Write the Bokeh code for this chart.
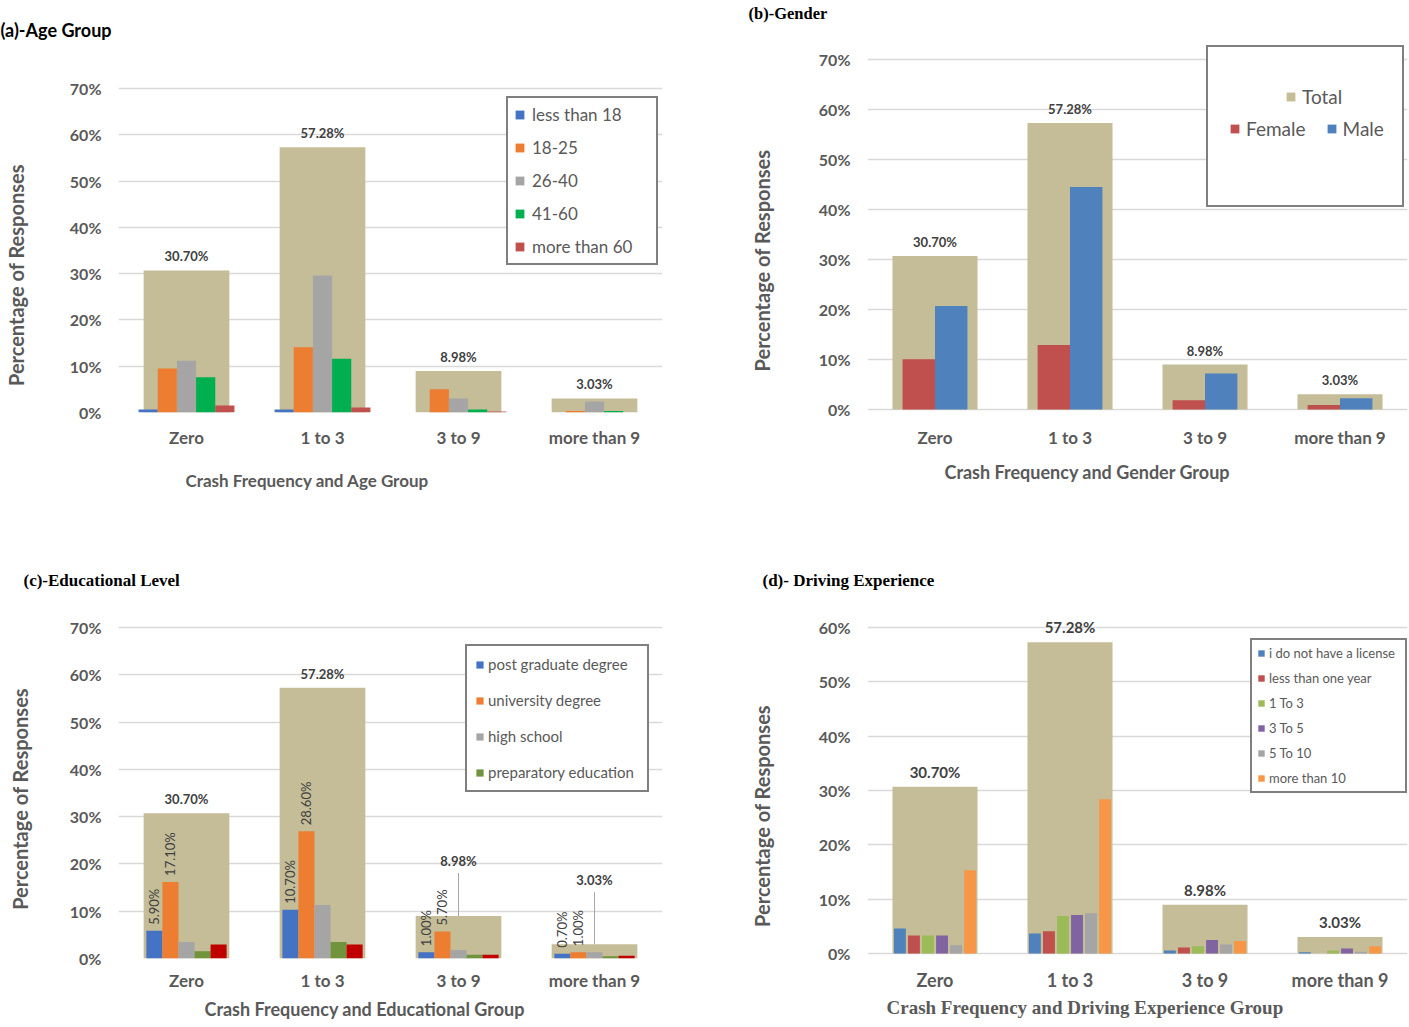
import numpy as np
from bokeh.plotting import figure
from bokeh.layouts import column, row
from bokeh.models import (FactorRange, Range1d, FixedTicker, PrintfTickFormatter, Legend,
                          LegendItem, Title, ColumnDataSource)
from bokeh.transform import dodge
from bokeh.core.properties import value
from bokeh.embed import file_html
from bokeh.resources import INLINE

# ---------------- data ----------------
categories = ["Zero", "1 to 3", "3 to 9", "more than 9"]
total = [30.70, 57.28, 8.98, 3.03]
total_labels = ["30.70%", "57.28%", "8.98%", "3.03%"]

# (a) age group
age_names = ["less than 18", "18-25", "26-40", "41-60", "more than 60"]
age_lt18 = [0.65, 0.65, 0.0, 0.0]
age_18_25 = [9.5, 14.1, 5.0, 0.3]
age_26_40 = [11.2, 29.6, 3.0, 2.4]
age_41_60 = [7.6, 11.6, 0.65, 0.35]
age_gt60 = [1.5, 1.1, 0.2, 0.0]

# (b) gender
gender_names = ["Female", "Male"]
gender_female = [10.05, 12.9, 1.85, 0.9]
gender_male = [20.7, 44.5, 7.2, 2.25]

# (c) educational level
edu_names = ["post graduate degree", "university degree", "high school", "preparatory education"]
edu_post = [5.85, 10.3, 1.34, 1.0]
edu_univ = [16.2, 26.9, 5.7, 1.34]
edu_high = [3.5, 11.3, 1.8, 1.34]
edu_prep = [1.55, 3.5, 0.77, 0.5]
edu_other = [2.96, 2.96, 0.77, 0.56]
edu_post_labels = ["5.90%", "10.70%", "1.00%", "0.70%"]
edu_univ_labels = ["17.10%", "28.60%", "5.70%", "1.00%"]

# (d) driving experience
drive_names = ["i do not have a license", "less than one year", "1 To 3", "3 To 5", "5 To 10", "more than 10"]
drive_nolic = [4.6, 3.7, 0.55, 0.25]
drive_lt1 = [3.3, 4.1, 1.1, 0.0]
drive_1to3 = [3.3, 6.9, 1.35, 0.55]
drive_3to5 = [3.3, 7.1, 2.5, 0.9]
drive_5to10 = [1.5, 7.4, 1.65, 0.3]
drive_gt10 = [15.3, 28.4, 2.3, 1.35]

# ---------------- style ----------------
TAN = "#c4bd97"
TXT = "#595959"
DARK = "#404040"
SANS = "Lato"
SERIF = "Liberation Serif"
NBSP = "\u00a0"


def base_fig(width, height, left, right, top, bottom, y0, y1, tick_max):
    p = figure(x_range=FactorRange(*categories), y_range=Range1d(y0, y1),
               width=width, height=height, output_backend="svg", toolbar_location=None,
               min_border_left=left, min_border_right=right,
               min_border_top=top, min_border_bottom=bottom)
    p.outline_line_color = None
    p.background_fill_color = "white"
    p.border_fill_color = "white"
    p.xgrid.grid_line_color = None
    ticks = list(range(0, tick_max + 1, 10))
    p.yaxis.ticker = FixedTicker(ticks=ticks)
    p.ygrid.ticker = FixedTicker(ticks=ticks)
    p.ygrid.grid_line_color = "#d9d9d9"
    p.ygrid.grid_line_width = 1.5
    p.yaxis.formatter = PrintfTickFormatter(format="%d%%")
    for ax in (p.xaxis[0], p.yaxis[0]):
        ax.axis_line_color = None
        ax.major_tick_line_color = None
        ax.minor_tick_line_color = None
        ax.major_tick_out = 0
        ax.major_tick_in = 0
        ax.minor_tick_out = 0
        ax.minor_tick_in = 0
        ax.major_label_text_color = TXT
        ax.major_label_text_font = SANS
        ax.major_label_text_font_style = "bold"
    p.yaxis.major_label_text_font_size = "16px"
    p.yaxis.major_label_standoff = 17
    p.xaxis.major_label_text_font_size = "17px"
    p.xaxis.major_label_standoff = 14
    return p


def add_total(p):
    src = ColumnDataSource(dict(cat=categories, total=total))
    return p.vbar(x="cat", top="total", width=0.63, source=src, fill_color=TAN, line_color=None)


def add_series(p, series, colors, pitch, width):
    n = len(series)
    rs = []
    src = ColumnDataSource(dict(cat=categories, **{f"s{i}": s for i, s in enumerate(series)}))
    for i, c in enumerate(colors):
        off = (i - (n - 1) / 2) * pitch
        r = p.vbar(x=dodge("cat", off, range=p.x_range), top=f"s{i}", width=width,
                   source=src, fill_color=c, line_color=None)
        rs.append(r)
    return rs


def add_total_labels(p, font_size, ppu, lift=None):
    lift = lift or [0] * len(categories)
    ys = [t + l / ppu for t, l in zip(total, lift)]
    src = ColumnDataSource(dict(cat=categories, y=ys, lab=total_labels))
    p.text(x="cat", y="y", text="lab", source=src, y_offset=-6, text_align="center",
           text_baseline="bottom", text_font=value(SANS), text_font_style="bold",
           text_font_size=font_size, text_color=DARK)
    xs, y0, y1 = [], [], []
    for c, t, l in zip(categories, total, lift):
        if l > 0:
            xs.append(c)
            y0.append(t)
            y1.append(t + (l + 2) / ppu)
    if xs:
        p.segment(x0=xs, y0=y0, x1=xs, y1=y1, line_color="#a6a6a6", line_width=1)


def panel_title(p, text, offset, standoff, font, size, spacer=None):
    if spacer is not None:
        p.add_layout(Title(text=NBSP, text_font_size="1px", standoff=spacer), "above")
    p.add_layout(Title(text=text, align="left", offset=offset, standoff=standoff,
                       vertical_align="bottom", text_font=font, text_font_size=size,
                       text_font_style="bold", text_color="black"), "above")


def x_title(p, text, offset, standoff, size, font=SANS):
    p.add_layout(Title(text=text, align="left", offset=offset, standoff=standoff,
                       vertical_align="top", text_font=font, text_font_size=size,
                       text_font_style="bold", text_color=TXT), "below")


def y_title(p, text, standoff, pad):
    p.yaxis.axis_label = text + NBSP * pad
    p.yaxis.axis_label_standoff = standoff
    p.yaxis.axis_label_text_font = SANS
    p.yaxis.axis_label_text_font_size = "20px"
    p.yaxis.axis_label_text_font_style = "bold"
    p.yaxis.axis_label_text_color = TXT


def make_legend(items, loc, font_size, glyph, label_h, spacing, padding, label_w, standoff=5,
                border=True, orientation="vertical"):
    return Legend(items=items, location=loc, orientation=orientation,
                  label_text_font=SANS, label_text_font_size=font_size, label_text_color=TXT,
                  glyph_width=glyph, glyph_height=glyph, label_height=label_h,
                  label_width=label_w, spacing=spacing, padding=padding, margin=0,
                  label_standoff=standoff,
                  border_line_color="black" if border else None, border_line_width=2,
                  background_fill_color="white",
                  background_fill_alpha=1.0 if border else 0.0)


# ---------------- (a) Age group ----------------
ppu_a = 4.629
pa = base_fig(738, 545, 118, 76, 40, 133, 0, 80.37, 70)
add_total(pa)
ra = add_series(pa, [age_lt18, age_18_25, age_26_40, age_41_60, age_gt60],
                ["#4472c4", "#ed7d31", "#a5a5a5", "#00b050", "#c0504d"], 0.141, 0.141)
add_total_labels(pa, "13px", ppu_a)
pa.add_layout(make_legend([LegendItem(label=n, renderers=[r]) for n, r in zip(age_names, ra)],
                          (388, 147), "17px", 11, 20, 12, 6, 118, standoff=7))
panel_title(pa, "(a)-Age Group", -118, 0, SANS, "18px")
y_title(pa, "Percentage of Responses", 39, 20)
x_title(pa, "Crash Frequency and Age Group", 67, 38, "17px")

# ---------------- (b) Gender ----------------
ppu_b = 5.0
pb = base_fig(671, 545, 129, 2, 40, 133, -0.6, 73.8, 70)
rb_total = add_total(pb)
rb = add_series(pb, [gender_female, gender_male], ["#c0504d", "#4f81bd"], 0.24, 0.24)
add_total_labels(pb, "13px", ppu_b)
dummy = pb.scatter(x=["Zero"], y=[0], size=1, fill_alpha=0, line_alpha=0)
pb.add_layout(make_legend([LegendItem(label=" ", renderers=[dummy])], (339, 205), "19px",
                          20, 20, 0, 69, 31))
pb.add_layout(make_legend([LegendItem(label="Total", renderers=[rb_total])], (418, 304), "19px",
                          11, 22, 0, 0, 20, standoff=6, border=False))
pb.add_layout(make_legend([LegendItem(label=n, renderers=[r]) for n, r in zip(gender_names, rb)],
                          (362, 272), "19px", 11, 22, 20, 0, 20, standoff=6, border=False,
                          orientation="horizontal"))
panel_title(pb, "(b)-Gender", -119, 0, SERIF, "16.5px", spacer=15)
y_title(pb, "Percentage of Responses", 42, 14)
x_title(pb, "Crash Frequency and Gender Group", 77, 20, "18px")

# ---------------- (c) Educational level ----------------
ppu_c = 4.729
pc = base_fig(738, 482, 118, 76, 55, 69, 0, 75.71, 70)
pc.xaxis.major_label_standoff = 11
add_total(pc)
rc = add_series(pc, [edu_post, edu_univ, edu_high, edu_prep, edu_other],
                ["#4472c4", "#ed7d31", "#a5a5a5", "#70933c", "#c00000"], 0.118, 0.118)
add_total_labels(pc, "13px", ppu_c, lift=[0, 0, 41, 50])
lab_src = ColumnDataSource(dict(cat=categories, p=edu_post, u=edu_univ,
                                pl=edu_post_labels, ul=edu_univ_labels))
for fld, lab, off in (("p", "pl", -2 * 0.118), ("u", "ul", -1 * 0.118)):
    pc.text(x=dodge("cat", off, range=pc.x_range), y=fld, text=lab, source=lab_src,
            angle=np.pi / 2, text_align="left", text_baseline="middle", y_offset=-6,
            text_font=value(SANS), text_font_size="13px", text_color=DARK)
pc.add_layout(make_legend([LegendItem(label=n, renderers=[r]) for n, r in zip(edu_names, rc[:4])],
                          (347, 166), "15px", 9, 20, 16, 8, 151, standoff=4))
panel_title(pc, "(c)-Educational Level", -95, 22, SERIF, "17px")
y_title(pc, "Percentage of Responses", 35, 8)
x_title(pc, "Crash Frequency and Educational Group", 86, 8, "18px")

# ---------------- (d) Driving experience ----------------
ppu_d = 5.433
pd_ = base_fig(671, 482, 129, 2, 55, 69, -0.92, 64.97, 60)
pd_.xaxis.major_label_standoff = 10
pd_.xaxis.major_label_text_font_size = "18px"
add_total(pd_)
rd = add_series(pd_, [drive_nolic, drive_lt1, drive_1to3, drive_3to5, drive_5to10, drive_gt10],
                ["#4f81bd", "#c0504d", "#9bbb59", "#8064a2", "#a5a5a5", "#f79646"], 0.104, 0.088)
add_total_labels(pd_, "15px", ppu_d)
pd_.add_layout(make_legend([LegendItem(label=n, renderers=[r]) for n, r in zip(drive_names, rd)],
                           (383, 165), "13px", 8, 16, 9, 5, 131, standoff=4))
panel_title(pd_, "(d)- Driving Experience", -105, 22, SERIF, "17px")
y_title(pd_, "Percentage of Responses", 42, 15)
x_title(pd_, "Crash Frequency and Driving Experience  Group", 19, 6, "19px", font=SERIF)

layout = column(row(pa, pb), row(pc, pd_))
open("out.html", "w").write(file_html(layout, INLINE))
